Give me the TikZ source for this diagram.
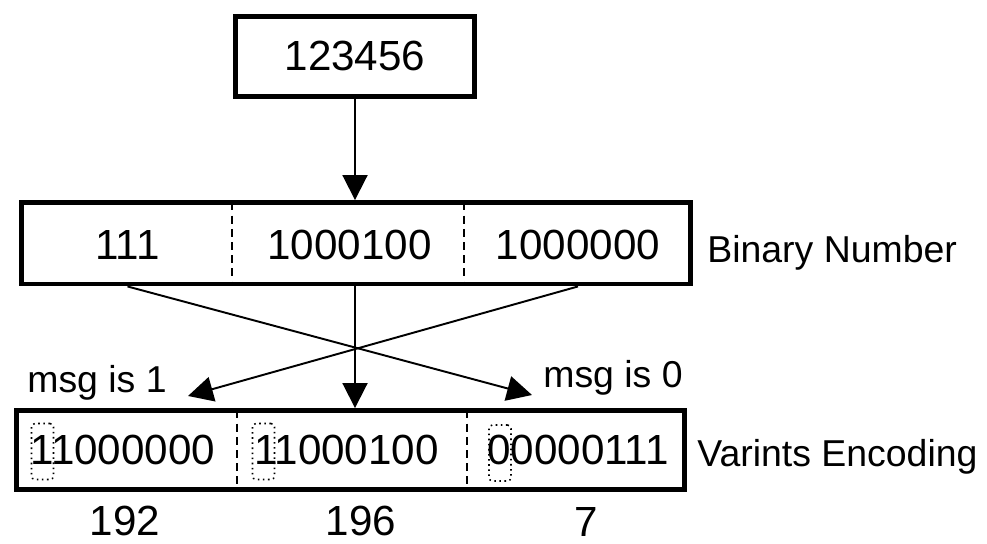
\documentclass[tikz,border=0pt]{standalone}
\usepackage{fontspec}
\setmainfont{Liberation Sans}
\usetikzlibrary{arrows.meta}

\tikzset{
  numbox/.style={draw, line width=2.8pt, inner sep=0pt},
  num/.style={font=\fontsize{24}{28}\selectfont, inner sep=0pt},
  lbl/.style={font=\fontsize{21.3}{25}\selectfont, inner sep=0pt},
  divider/.style={line width=1.3pt, dash pattern=on 4.5pt off 3pt},
  markbox/.style={draw, dotted, line width=0.9pt, rounded corners=2pt,
    minimum width=0.44cm, minimum height=1.12cm, inner sep=0pt},
  conn/.style={line width=1.1pt, -{Triangle[length=0.5cm, width=0.5cm]}}
}

\begin{document}
\begin{tikzpicture}[x=0.02cm, y=-0.02cm]
  \useasboundingbox (0,0) rectangle (987,544);

  \node[numbox, minimum width=4.78cm, minimum height=1.6cm] (dec) at (355,56.5) {};
  \node[num] (decval) at (355,56) {123456};

  \node[numbox, minimum width=13.39cm, minimum height=1.63cm] (bin) at (356.25,243.25) {};
  \draw[divider] (232,202.5) -- (232,284);
  \draw[divider] (464,202.5) -- (464,284);
  \node[num] (b1) at (127.5,245) {111};
  \node[num] (b2) at (349.5,245) {1000100};
  \node[num] (b3) at (578,245) {1000000};
  \node[lbl, anchor=base west] (binlbl) at (707,262) {Binary Number};

  \node[numbox, minimum width=13.37cm, minimum height=1.58cm] (var) at (350.75,450) {};
  \draw[divider] (237,410.5) -- (237,489.5);
  \draw[divider] (467,410.5) -- (467,489.5);
  \node[num] (v1) at (123,450) {11000000};
  \node[num] (v2) at (346.5,450) {11000100};
  \node[num] (v3) at (578,450) {00000111};
  \node[markbox] (m1) at (42.5,451.5) {};
  \node[markbox] (m2) at (263.5,451.5) {};
  \node[markbox] (m3) at (500,453) {};
  \node[lbl, anchor=base west] (varlbl) at (697,466) {Varints Encoding};

  \node[lbl, anchor=base west] (msg1) at (27,392) {msg is 1};
  \node[lbl, anchor=base west] (msg0) at (543,387) {msg is 0};

  \node[num] (d1) at (125,521) {192};
  \node[num] (d2) at (361,521) {196};
  \node[num] (d3) at (586,522) {7};

  \coordinate (tip1) at (188,396);
  \coordinate (tip0) at (532,395);

  \draw[conn] (dec.south) -- (dec.south |- bin.north);
  \draw[conn] (dec.south |- bin.south) -- (dec.south |- var.north);
  \draw[conn] (b1 |- bin.south) -- (tip0);
  \draw[conn] (b3 |- bin.south) -- (tip1);
\end{tikzpicture}
\end{document}
